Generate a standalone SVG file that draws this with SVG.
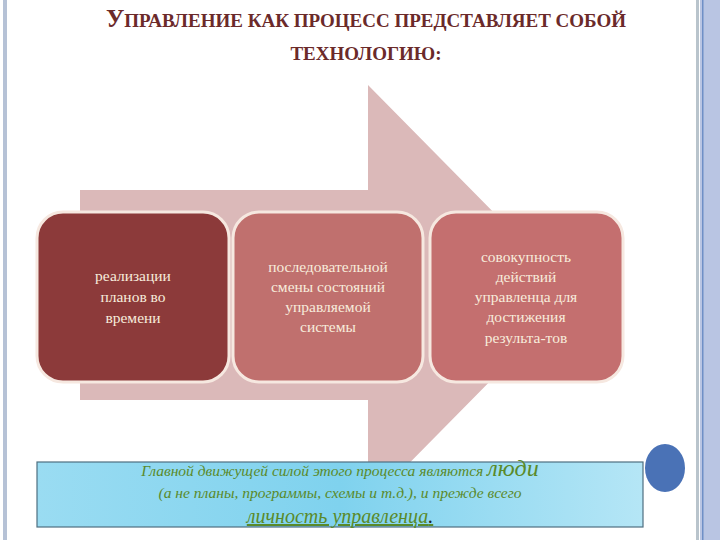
<svg xmlns="http://www.w3.org/2000/svg" width="720" height="540" viewBox="0 0 720 540">
<defs>
<style>
.title{font-family:"Liberation Serif",serif;fill:#6b2a2a;font-weight:bold;text-anchor:middle}
.bt{font-family:"Liberation Serif",serif;font-size:15.5px;fill:#f7ecdc;text-anchor:middle}
.box{stroke:#f6e8e0;stroke-width:3}
.gt{font-family:"Liberation Serif",serif;font-style:italic;fill:#5a8a2a;text-anchor:middle}
</style>
<linearGradient id="cy" x1="0" y1="0" x2="1" y2="0">
<stop offset="0" stop-color="#9adcf2"/><stop offset="0.5" stop-color="#7fd2ee"/><stop offset="1" stop-color="#b5e6f6"/>
</linearGradient>
</defs>
<rect width="720" height="540" fill="#ffffff"/>
<rect x="3" y="0" width="4" height="540" fill="#b6c2d6"/>
<rect x="696" y="0" width="3" height="540" fill="#b9c4cc"/>
<rect x="700" y="0" width="20" height="540" fill="#b9c5e3"/>
<rect x="702" y="0" width="1.5" height="540" fill="#6f8fc6"/>
<text class="title" x="366" y="27" font-size="19"><tspan font-size="25">У</tspan>ПРАВЛЕНИЕ КАК ПРОЦЕСС ПРЕДСТАВЛЯЕТ СОБОЙ</text>
<text class="title" x="366" y="60" font-size="19">ТЕХНОЛОГИЮ:</text>
<g id="arrow"><polygon points="80,190 368,190 368,85 575,295 368,505 368,400 80,400" fill="#dbb9b9"/></g>
<g id="connectors"/>
<g id="n1"><rect class="box" x="37" y="212" width="192" height="170" rx="26" fill="#8c3a3a"/>
<text class="bt" x="133" y="281">реализации</text><text class="bt" x="133" y="302">планов во</text><text class="bt" x="133" y="323">времени</text></g>
<g id="n2"><rect class="box" x="233" y="212" width="190" height="170" rx="26" fill="#c0706e"/>
<text class="bt" x="328" y="272">последовательной</text><text class="bt" x="328" y="292">смены состояний</text><text class="bt" x="328" y="312">управляемой</text><text class="bt" x="328" y="332">системы</text></g>
<g id="n3"><rect class="box" x="430" y="212" width="193" height="170" rx="26" fill="#c46f6f"/>
<text class="bt" x="526" y="262">совокупность</text><text class="bt" x="526" y="282">действий</text><text class="bt" x="526" y="302">управленца для</text><text class="bt" x="526" y="322">достижения</text><text class="bt" x="526" y="343">результа-тов</text></g>
<g id="note"><rect x="37" y="462" width="606" height="65" fill="url(#cy)" stroke="#4f6f80" stroke-width="1.2"/>
<text class="gt" x="340" y="476" font-size="15.5">Главной движущей силой этого процесса являются <tspan font-size="24">люди</tspan></text>
<text class="gt" x="340" y="498" font-size="15.5">(а не планы, программы, схемы и т.д.), и прежде всего</text>
<text class="gt" x="340" y="523" font-size="20" text-decoration="underline">личность управленца<tspan fill="#222" text-decoration="none">.</tspan></text></g>
<ellipse cx="665" cy="468" rx="20" ry="24" fill="#4a72b6"/>
</svg>
